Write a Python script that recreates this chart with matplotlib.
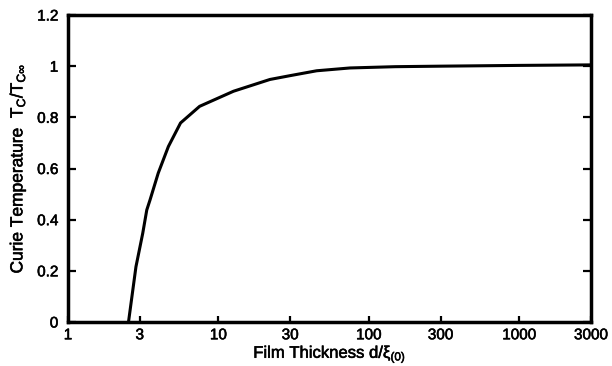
import matplotlib
matplotlib.use('Agg')
from matplotlib import pyplot as plt
from matplotlib import patheffects
from matplotlib.ticker import FixedLocator, NullLocator

plt.rcParams['font.family'] = ['Liberation Sans', 'DejaVu Sans']
plt.rcParams['mathtext.fontset'] = 'custom'
plt.rcParams['mathtext.rm'] = 'Liberation Sans'
plt.rcParams['mathtext.it'] = 'Liberation Sans:italic'

# film thickness d / xi(0) and reduced Curie temperature
thickness = [2.525, 2.83, 3.14, 3.34, 3.51, 3.98, 4.65, 5.6, 7.5, 12.6, 22.0, 30.0, 45.0, 75.0,
             150.0, 300.0, 1000.0, 3000.0]
tc_ratio = [0.0, 0.216, 0.347, 0.438, 0.477, 0.582, 0.686, 0.778, 0.843, 0.902, 0.948, 0.963,
            0.982, 0.993, 0.998, 1.0, 1.003, 1.005]

x_ticks = [1, 3, 10, 30, 100, 300, 1000, 3000]
x_labels = ['1', '3', '10', '30', '100', '300', '1000', '3000']
y_ticks = [0, 0.2, 0.4, 0.6, 0.8, 1.0, 1.2]
y_labels = ['0', '0.2', '0.4', '0.6', '0.8', '1', '1.2']

fig = plt.figure(figsize=(6.12, 3.66), dpi=100)
ax = fig.add_axes([68 / 612, 1 - 322 / 366, (591 - 68) / 612, (322 - 15) / 366])

ax.plot(thickness, tc_ratio, color='black', linewidth=2.2, solid_joinstyle='round')

ax.set_xscale('log')
ax.set_xlim(1, 3000)
ax.set_ylim(0, 1.2)
ax.xaxis.set_major_locator(FixedLocator(x_ticks))
ax.xaxis.set_minor_locator(NullLocator())
ax.set_xticklabels(x_labels)
ax.set_yticks(y_ticks)
ax.set_yticklabels(y_labels)

for s in ax.spines.values():
    s.set_linewidth(2.5)

ax.tick_params(axis='both', direction='in', width=1.6, colors='black', labelsize=11)
ax.tick_params(axis='y', length=6, pad=7, right=True)
ax.tick_params(axis='x', length=4.5, pad=4.5)

ax.set_xlabel('Film Thickness d/ξ$_{\\mathrm{(0)}}$', fontsize=12, labelpad=0.5)
ax.set_ylabel('Curie Temperature  T$_\\mathrm{C}$/T$_{\\mathrm{C}\\infty}$', fontsize=12.5, labelpad=7)

# scanned print looks a bit heavier than plain Liberation
heavy = [patheffects.withStroke(linewidth=0.4, foreground='black')]
for t in ax.get_xticklabels() + ax.get_yticklabels() + [ax.xaxis.label, ax.yaxis.label]:
    t.set_path_effects(heavy)

fig.savefig('out.png', dpi=100)
